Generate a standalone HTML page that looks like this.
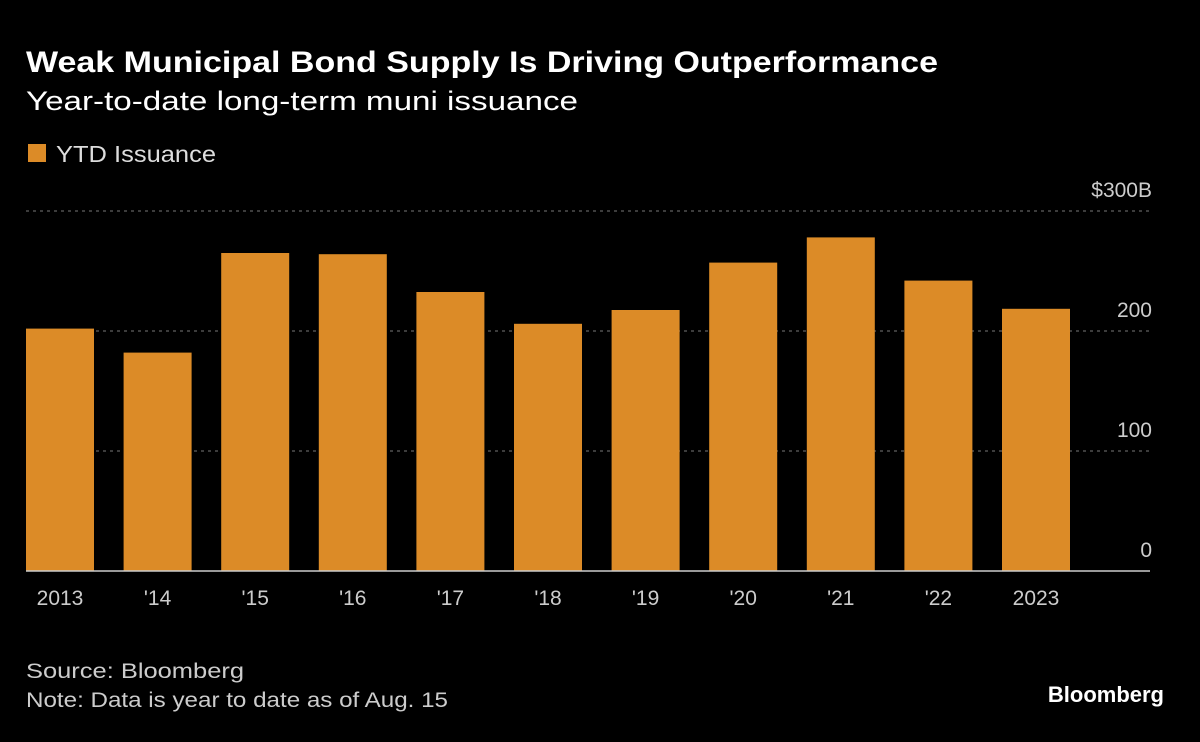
<!DOCTYPE html>
<html><head><meta charset="utf-8"><style>
body{margin:0;background:#000;width:1200px;height:737px;overflow:hidden;font-family:"Liberation Sans",sans-serif;color:#fff}
</style></head><body>
<svg width="1200" height="737">
<text x="26" y="72" font-size="30" font-weight="bold" fill="#fff" textLength="912" lengthAdjust="spacingAndGlyphs">Weak Municipal Bond Supply Is Driving Outperformance</text>
<text x="26" y="110" font-size="27" fill="#fff" textLength="552" lengthAdjust="spacingAndGlyphs">Year-to-date long-term muni issuance</text>
<rect x="28" y="144" width="18" height="18" fill="#dc8b27"/>
<text x="56" y="162" font-size="23" fill="#ddd" textLength="160" lengthAdjust="spacingAndGlyphs">YTD Issuance</text>
<g id="grid"></g><g id="bars"></g><g id="xlabels"></g>
<line x1="26" y1="571" x2="1150" y2="571" stroke="#ccc" stroke-width="1.5"/>
<text x="26" y="678" font-size="21" fill="#ccc" textLength="218" lengthAdjust="spacingAndGlyphs">Source: Bloomberg</text>
<text x="26" y="707" font-size="21" fill="#ccc" textLength="422" lengthAdjust="spacingAndGlyphs">Note: Data is year to date as of Aug. 15</text>
<text x="1164" y="702" font-size="22" font-weight="bold" fill="#fff" text-anchor="end">Bloomberg</text>
</svg>
<script>
const categories=["2013","'14","'15","'16","'17","'18","'19","'20","'21","'22","2023"];
const values=[202,182,265,264,232.5,206,217.5,257,278,242,218.5];
const ticks=[0,100,200,300];
const tickLabels=["0","100","200","$300B"];
const ns="http://www.w3.org/2000/svg";
const y=v=>571-v*1.2;
const x=i=>26+i*97.6;
const g=document.getElementById('grid'),b=document.getElementById('bars'),xl=document.getElementById('xlabels');
ticks.forEach((t,i)=>{
 if(t>0){const l=document.createElementNS(ns,'line');
 
 
 l.setAttribute('x1',26);l.setAttribute('x2',1150);l.setAttribute('y1',y(t));l.setAttribute('y2',y(t));
 l.setAttribute('stroke','#777');l.setAttribute('stroke-dasharray','3,4');g.appendChild(l);}
 const tx=document.createElementNS(ns,'text');
 
 
 tx.setAttribute('x',1152);tx.setAttribute('y',y(t)-14);tx.setAttribute('text-anchor','end');
 tx.setAttribute('font-size','21');tx.setAttribute('fill','#ccc');tx.textContent=tickLabels[i];g.appendChild(tx);
});
values.forEach((v,i)=>{
 const r=document.createElementNS(ns,'rect');
 
 
 r.setAttribute('x',x(i));r.setAttribute('y',y(v));r.setAttribute('width',68);r.setAttribute('height',571-y(v));
 r.setAttribute('fill','#dc8b27');b.appendChild(r);
 const t=document.createElementNS(ns,'text');
 
 
 t.setAttribute('x',x(i)+34);t.setAttribute('y',605);t.setAttribute('text-anchor','middle');
 t.setAttribute('font-size','21');t.setAttribute('fill','#ccc');t.textContent=categories[i];xl.appendChild(t);
});
</script>
</body></html>
